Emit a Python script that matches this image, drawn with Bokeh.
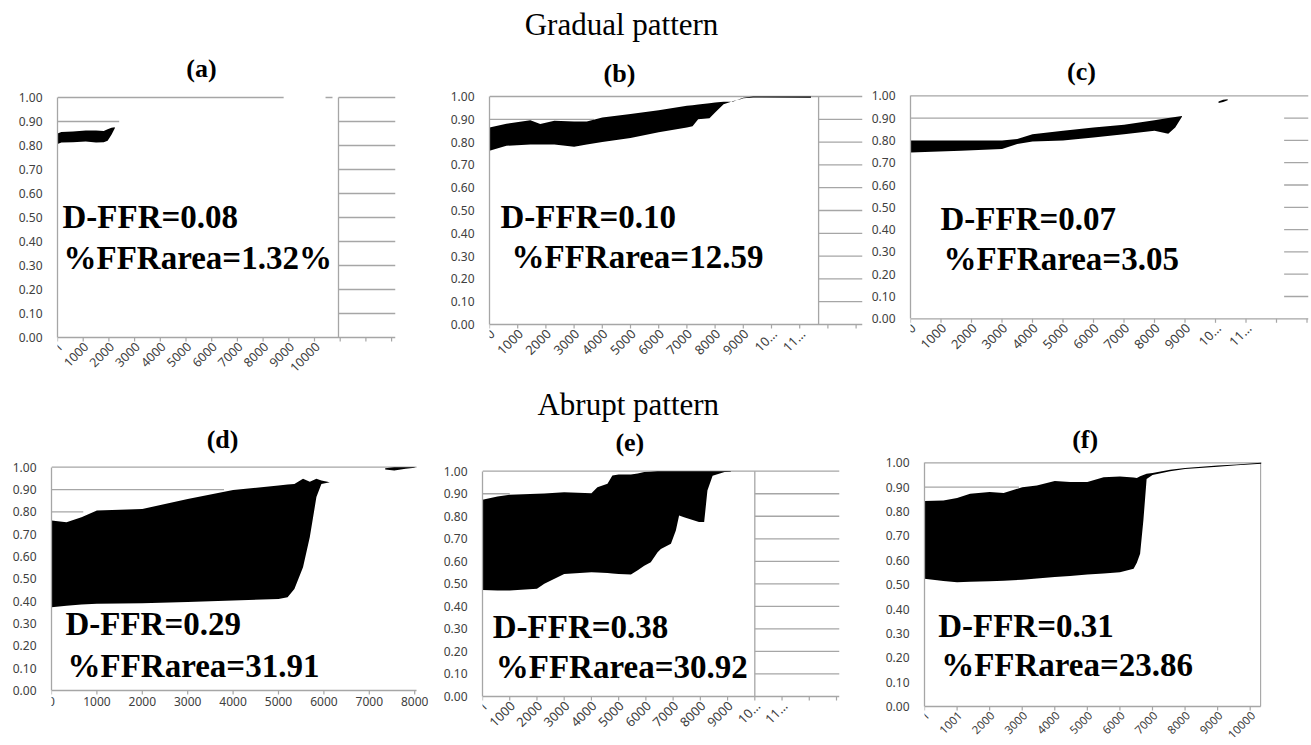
import math
from bokeh.plotting import figure
from bokeh.layouts import column, row
from bokeh.models import Range1d, FixedTicker, PrintfTickFormatter, Label
from bokeh.core.properties import value
from bokeh.embed import file_html
from bokeh.resources import INLINE

# ---------------- data ----------------
Y_TICKS = [0.0, 0.1, 0.2, 0.3, 0.4, 0.5, 0.6, 0.7, 0.8, 0.9, 1.0]

# (a) gradual
a_x = [1, 150, 600, 1100, 1500, 1800, 1950, 2100, 2230]
a_hi = [0.850, 0.856, 0.858, 0.862, 0.862, 0.860, 0.868, 0.874, 0.876]
a_lo = [0.806, 0.812, 0.814, 0.817, 0.812, 0.814, 0.820, 0.845, 0.872]
a_ticks = [1, 1000, 2000, 3000, 4000, 5000, 6000, 7000, 8000, 9000, 10000, 11000, 12000, 13000]
a_labels = ["1", "1000", "2000", "3000", "4000", "5000", "6000", "7000", "8000", "9000", "10000", "", "", ""]

# (b) gradual
b_x = [0, 600, 1450, 1800, 2300, 3000, 3450, 4000, 5000, 6000, 7000, 7200, 7400, 7800, 8000,
       8300, 8650, 8900, 9000, 9350, 11400]
b_hi = [0.864, 0.880, 0.896, 0.879, 0.894, 0.890, 0.890, 0.908, 0.923, 0.940, 0.960, 0.962, 0.965,
        0.970, 0.974, 0.977, 0.978, 0.990, 0.995, 1.000, 1.000]
b_lo = [0.762, 0.784, 0.790, 0.790, 0.790, 0.780, 0.790, 0.800, 0.818, 0.843, 0.864, 0.870, 0.900,
        0.905, 0.930, 0.966, 0.980, 0.988, 0.992, 0.996, 0.995]
b_ticks = [0, 1000, 2000, 3000, 4000, 5000, 6000, 7000, 8000, 9000, 10000, 11000, 12000, 13000]
b_labels = ["0", "1000", "2000", "3000", "4000", "5000", "6000", "7000", "8000", "9000",
            "10\u2026", "11\u2026", "", ""]

# (c) gradual
c_x = [0, 1650, 3000, 3500, 4000, 5000, 6000, 7000, 8000, 8450, 8680, 8900]
c_hi = [0.800, 0.800, 0.800, 0.806, 0.828, 0.843, 0.858, 0.870, 0.890, 0.900, 0.905, 0.910]
c_lo = [0.746, 0.754, 0.761, 0.784, 0.795, 0.800, 0.813, 0.828, 0.843, 0.830, 0.858, 0.906]
c2_x = [10100, 10250, 10400]
c2_hi = [0.975, 0.982, 0.985]
c2_lo = [0.968, 0.972, 0.980]
c_ticks = [0, 1000, 2000, 3000, 4000, 5000, 6000, 7000, 8000, 9000, 10000, 11000, 12000, 13000]
c_labels = ["0", "1000", "2000", "3000", "4000", "5000", "6000", "7000", "8000", "9000",
            "10\u2026", "11\u2026", "", ""]

# (d) abrupt
d_x = [0, 330, 660, 1000, 2000, 3000, 4000, 5000, 5200, 5350, 5540, 5690, 5835, 5945, 6130]
d_hi = [0.761, 0.754, 0.776, 0.806, 0.813, 0.858, 0.898, 0.918, 0.922, 0.925, 0.948, 0.935,
        0.948, 0.940, 0.933]
d_lo = [0.373, 0.380, 0.385, 0.388, 0.391, 0.396, 0.403, 0.410, 0.418, 0.455, 0.552, 0.687,
        0.866, 0.925, 0.933]
d2_x = [7350, 7550, 7800, 8000]
d2_hi = [0.995, 1.000, 1.000, 1.000]
d2_lo = [0.990, 0.985, 0.993, 0.997]
d_ticks = [0, 1000, 2000, 3000, 4000, 5000, 6000, 7000, 8000]
d_labels = ["0", "1000", "2000", "3000", "4000", "5000", "6000", "7000", "8000"]

# (e) abrupt
e_x = [0, 550, 1000, 2000, 2270, 3000, 4000, 4220, 4590, 4770, 5000, 5450, 5700, 5940, 6180,
       6430, 6550, 6920, 7100, 7220, 7400, 7950, 8140, 8260, 8450, 8890, 9120]
e_hi = [0.873, 0.888, 0.896, 0.900, 0.901, 0.907, 0.902, 0.929, 0.944, 0.981, 0.985, 0.985,
        0.990, 0.996, 0.998, 1.000, 1.000, 1.000, 1.000, 1.000, 1.000, 1.000, 1.000, 1.000,
        1.000, 1.000, 1.000]
e_lo = [0.473, 0.470, 0.470, 0.478, 0.500, 0.544, 0.552, 0.550, 0.548, 0.546, 0.544, 0.541,
        0.560, 0.580, 0.596, 0.640, 0.655, 0.678, 0.737, 0.803, 0.796, 0.774, 0.774, 0.914,
        0.980, 0.996, 0.998]
e_ticks = [1, 1000, 2000, 3000, 4000, 5000, 6000, 7000, 8000, 9000, 10000, 11000, 12000, 13000]
e_labels = ["1", "1000", "2000", "3000", "4000", "5000", "6000", "7000", "8000", "9000",
            "10\u2026", "11\u2026", "", ""]

# (f) abrupt
f_x = [0, 580, 1000, 1400, 2000, 2430, 3000, 3450, 4000, 4470, 5000, 5500, 6000, 6420, 6520,
       6620, 6720, 6820, 7000, 7540, 8000, 9000, 9590, 10340]
f_hi = [0.843, 0.845, 0.856, 0.873, 0.880, 0.876, 0.900, 0.907, 0.925, 0.921, 0.921, 0.941,
        0.944, 0.940, 0.938, 0.945, 0.950, 0.955, 0.958, 0.971, 0.979, 0.989, 0.993, 1.000]
f_lo = [0.524, 0.515, 0.510, 0.512, 0.514, 0.516, 0.520, 0.525, 0.531, 0.536, 0.542, 0.546,
        0.551, 0.565, 0.590, 0.627, 0.763, 0.934, 0.950, 0.965, 0.975, 0.984, 0.990, 0.996]
f_ticks = [1, 1001, 2000, 3000, 4000, 5000, 6000, 7000, 8000, 9000, 10000]
f_labels = ["1", "1001", "2000", "3000", "4000", "5000", "6000", "7000", "8000", "9000", "10000"]

titles = ["(a)", "(b)", "(c)", "(d)", "(e)", "(f)"]
dffr = ["D-FFR=0.08", "D-FFR=0.10", "D-FFR=0.07", "D-FFR=0.29", "D-FFR=0.38", "D-FFR=0.31"]
ffrarea = ["%FFRarea=1.32%", "%FFRarea=12.59", "%FFRarea=3.05",
           "%FFRarea=31.91", "%FFRarea=30.92", "%FFRarea=23.86"]
headers = ["Gradual pattern", "Abrupt pattern"]

# ---------------- styling ----------------
GRID = "#a6a6a6"
TICKFONT = "Noto Sans"
SERIF = "Liberation Serif"
LABEL_COLOR = "#404040"
BASELINE_SHIFT = 0.35   # fraction of the font size the renderer puts the baseline too low


def panel(w, h, bl, br, xmax, ymin, ymax):
    p = figure(width=w, height=h, x_range=Range1d(0, xmax), y_range=Range1d(ymin, ymax),
               output_backend="svg", toolbar_location=None, title=None,
               x_axis_location=None,
               min_border_left=bl, min_border_right=br, min_border_top=0,
               min_border_bottom=0)
    p.outline_line_color = None
    p.grid.visible = False
    p.background_fill_color = "white"
    p.border_fill_color = "white"
    ya = p.yaxis[0]
    ya.ticker = FixedTicker(ticks=Y_TICKS)
    ya.formatter = PrintfTickFormatter(format="%.2f")
    ya.bounds = (0, 1)
    ya.major_tick_out = 0
    ya.major_tick_in = 0
    ya.minor_tick_out = 0
    ya.minor_tick_in = 0
    ya.major_label_standoff = 15
    ya.axis_line_color = GRID
    ya.axis_line_width = 1.3
    ya.major_label_text_font = TICKFONT
    ya.major_label_text_font_size = "12px"
    ya.major_label_text_color = LABEL_COLOR
    return p


def x_axis(p, ticks, labels, xend, ppk, pxu, rotate, fsize):
    """category-style bottom axis drawn at y = 0 through the panel's own scales"""
    n = len(ticks)
    p.segment(x0=[0], y0=[0], x1=[xend], y1=[0], line_color=GRID, line_width=1.3)
    p.segment(x0=ticks, y0=[0] * n, x1=ticks, y1=[-4.0 / pxu] * n,
              line_color=GRID, line_width=1.2)
    for t, lab in zip(ticks, labels):
        if not lab:
            continue
        if rotate:
            lb = Label(x=t + 3.0 / ppk * 1000, y=-7.0 / pxu, text=lab, angle=math.pi / 4,
                       text_align="right", text_baseline="middle", text_font=TICKFONT,
                       text_font_size=fsize, text_color=LABEL_COLOR, level="overlay")
        else:
            lb = Label(x=t, y=-6.0 / pxu, text=lab, text_align="center",
                       text_baseline="top", text_font=TICKFONT,
                       text_font_size=fsize, text_color=LABEL_COLOR, level="overlay")
        p.add_layout(lb)


def grid(p, specs, verticals=()):
    x0, x1, y0 = [], [], []
    for y, a, b in specs:
        x0.append(a)
        x1.append(b)
        y0.append(y)
    p.segment(x0=x0, y0=y0, x1=x1, y1=y0, line_color=GRID, line_width=1.3)
    for v in verticals:
        p.segment(x0=[v], y0=[0], x1=[v], y1=[1], line_color=GRID, line_width=1.3)


def texts(p, pxu, items):
    for txt, x, y, size, style, align in items:
        shift = BASELINE_SHIFT * size / pxu
        p.text(x=[x], y=[y + shift], text=[txt], text_font=value(SERIF),
               text_font_size="%dpx" % size,
               text_font_style=style, text_align=align,
               text_baseline="alphabetic", text_color="black")


def band(p, x, lo, hi):
    p.varea(x=x, y1=lo, y2=hi, fill_color="black", fill_alpha=1.0)


LV = [0.1, 0.2, 0.3, 0.4, 0.5, 0.6, 0.7, 0.8]

# ---------- row 1 ----------
H1 = 383
AX = 13152
pa = panel(420, H1, 57, 25, AX, -0.1917, 1.4042)
grid(pa, [(1.0, 0, 8800), (1.0, 10430, 10700), (1.0, 10934, AX), (0.9, 0, 2400), (0.9, 10934, AX)]
     + [(l, 10934, AX) for l in LV], verticals=[10934])
x_axis(pa, a_ticks, a_labels, AX, 25.7, 240.0, True, "12.5px")
band(pa, a_x, a_lo, a_hi)
texts(pa, 240.0, [(titles[0], 5603, 1.083, 26, "bold", "center"),
                  (dffr[0], 195, 0.454, 33, "bold", "left"),
                  (ffrarea[0], 233, 0.283, 33, "bold", "left")])

BX = 13227
pb = panel(445, H1, 69, 3, BX, -0.2588, 1.4211)
grid(pb, [(1.0, 0, BX), (0.9, 0, 3700), (0.9, 11670, BX)] + [(l, 11670, BX) for l in LV],
     verticals=[11670])
x_axis(pb, b_ticks, b_labels, BX, 28.2, 228.0, True, "13px")
band(pb, b_x, b_lo, b_hi)
texts(pb, 228.0, [(headers[0], 4681, 1.2675, 31, "normal", "center"),
                  (titles[1], 4610, 1.060, 26, "bold", "center"),
                  (dffr[1], 390, 0.421, 33, "bold", "left"),
                  (ffrarea[1], 780, 0.246, 33, "bold", "left")])

CX = 13049
pc = panel(445, H1, 45, 2, CX, -0.2901, 1.4274)
grid(pc, [(1.0, 0, CX), (0.9, 0, 8700), (0.9, 12250, CX)] + [(l, 12250, CX) for l in LV])
x_axis(pc, c_ticks, c_labels, CX, 30.5, 223.0, True, "13px")
band(pc, c_x, c_lo, c_hi)
band(pc, c2_x, c2_lo, c2_hi)
texts(pc, 223.0, [(titles[2], 5607, 1.070, 26, "bold", "center"),
                  (dffr[2], 984, 0.396, 33, "bold", "left"),
                  (ffrarea[2], 1082, 0.217, 33, "bold", "left")])

# ---------- row 2 ----------
H2 = 360
DX = 8040
DXR = 8304
pd_ = panel(430, H2, 51, 2, DXR, -0.2373, 1.3748)
grid(pd_, [(1.0, 0, DX), (0.9, 0, 3800), (0.8, 0, 700)])
x_axis(pd_, d_ticks, d_labels, DX, 45.4, 223.3, False, "12px")
band(pd_, d_x, d_lo, d_hi)
band(pd_, d2_x, d2_lo, d2_hi)
texts(pd_, 223.3, [(titles[3], 3767, 1.084, 26, "bold", "center"),
                   (dffr[3], 308, 0.246, 33, "bold", "left"),
                   (ffrarea[3], 352, 0.058, 33, "bold", "left")])

EX = 13110
pe = panel(445, H2, 52, 36, EX, -0.2086, 1.3893)
grid(pe, [(1.0, 0, EX), (0.9, 0, 1000), (0.9, 10000, EX)] + [(l, 10000, EX) for l in LV],
     verticals=[10000])
x_axis(pe, e_ticks, e_labels, EX, 27.23, 225.3, True, "13px")
band(pe, e_x, e_lo, e_hi)
texts(pe, 225.3, [(headers[1], 5354, 1.247, 31, "normal", "center"),
                  (titles[4], 5410, 1.087, 26, "bold", "center"),
                  (dffr[4], 378, 0.257, 33, "bold", "left"),
                  (ffrarea[4], 488, 0.080, 33, "bold", "left")])

FX = 10347
pf = panel(435, H2, 49, 49, FX, -0.1518, 1.3254)
grid(pf, [(1.0, 0, FX), (0.9, 0, 2900)], verticals=[FX - 25])
x_axis(pf, f_ticks, f_labels, FX - 25, 32.57, 243.7, True, "11.5px")
band(pf, f_x, f_lo, f_hi)
texts(pf, 243.7, [(titles[5], 4934, 1.0587, 26, "bold", "center"),
                  (dffr[5], 420, 0.2831, 33, "bold", "left"),
                  (ffrarea[5], 512, 0.1231, 33, "bold", "left")])

layout = column(row(pa, pb, pc), row(pd_, pe, pf))

open("out.html", "w").write(file_html(layout, INLINE))
